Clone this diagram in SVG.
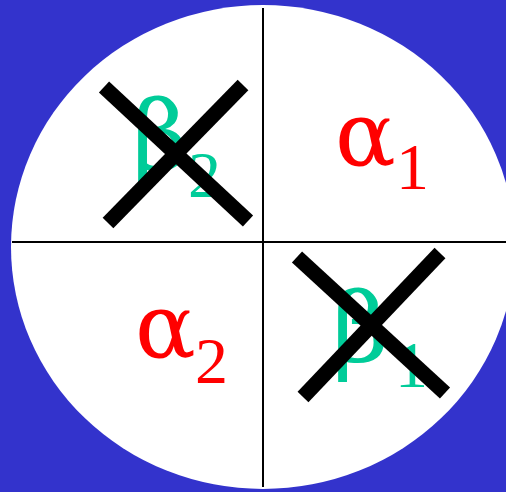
<svg xmlns="http://www.w3.org/2000/svg" width="506" height="492" viewBox="0 0 506 492">
<style>
.ax{stroke:#000;stroke-width:2;fill:none}
.x{stroke:#000;stroke-width:15;stroke-linecap:butt}
.t{font-family:"Liberation Serif","Times New Roman",serif}
.g{font-family:"DejaVu Serif",serif}
.a{fill:#ff0000}
.b{fill:#00cc99}
.m{font-size:90px}
.mb{font-size:98px}
.s{font-size:66px}
</style>
<rect width="506" height="492" fill="#3333cc"/>
<ellipse cx="263" cy="247" rx="252" ry="242" fill="#fff"/>
<g id="connectors">
<line class="ax" x1="263" y1="8" x2="263" y2="487"/>
<line class="ax" x1="12" y1="242" x2="506" y2="242"/>
</g>
<g id="beta2">
<text class="t b" x="132" y="170"><tspan class="mb g">β</tspan><tspan class="s" x="188" y="197">2</tspan></text>
<line class="x" x1="104" y1="87" x2="248" y2="221"/>
<line class="x" x1="243" y1="85" x2="108" y2="223"/>
</g>
<g id="alpha1">
<text class="t a" x="335" y="165"><tspan class="m g">α</tspan><tspan class="s" x="396" y="189">1</tspan></text>
</g>
<g id="alpha2">
<text class="t a" x="135" y="357"><tspan class="m g">α</tspan><tspan class="s" x="195" y="383">2</tspan></text>
</g>
<g id="beta1">
<text class="t b" x="332" y="362"><tspan class="mb g">β</tspan><tspan class="s" x="395" y="387">1</tspan></text>
<line class="x" x1="297" y1="257" x2="445" y2="393"/>
<line class="x" x1="440" y1="253" x2="303" y2="397"/>
</g>
</svg>
